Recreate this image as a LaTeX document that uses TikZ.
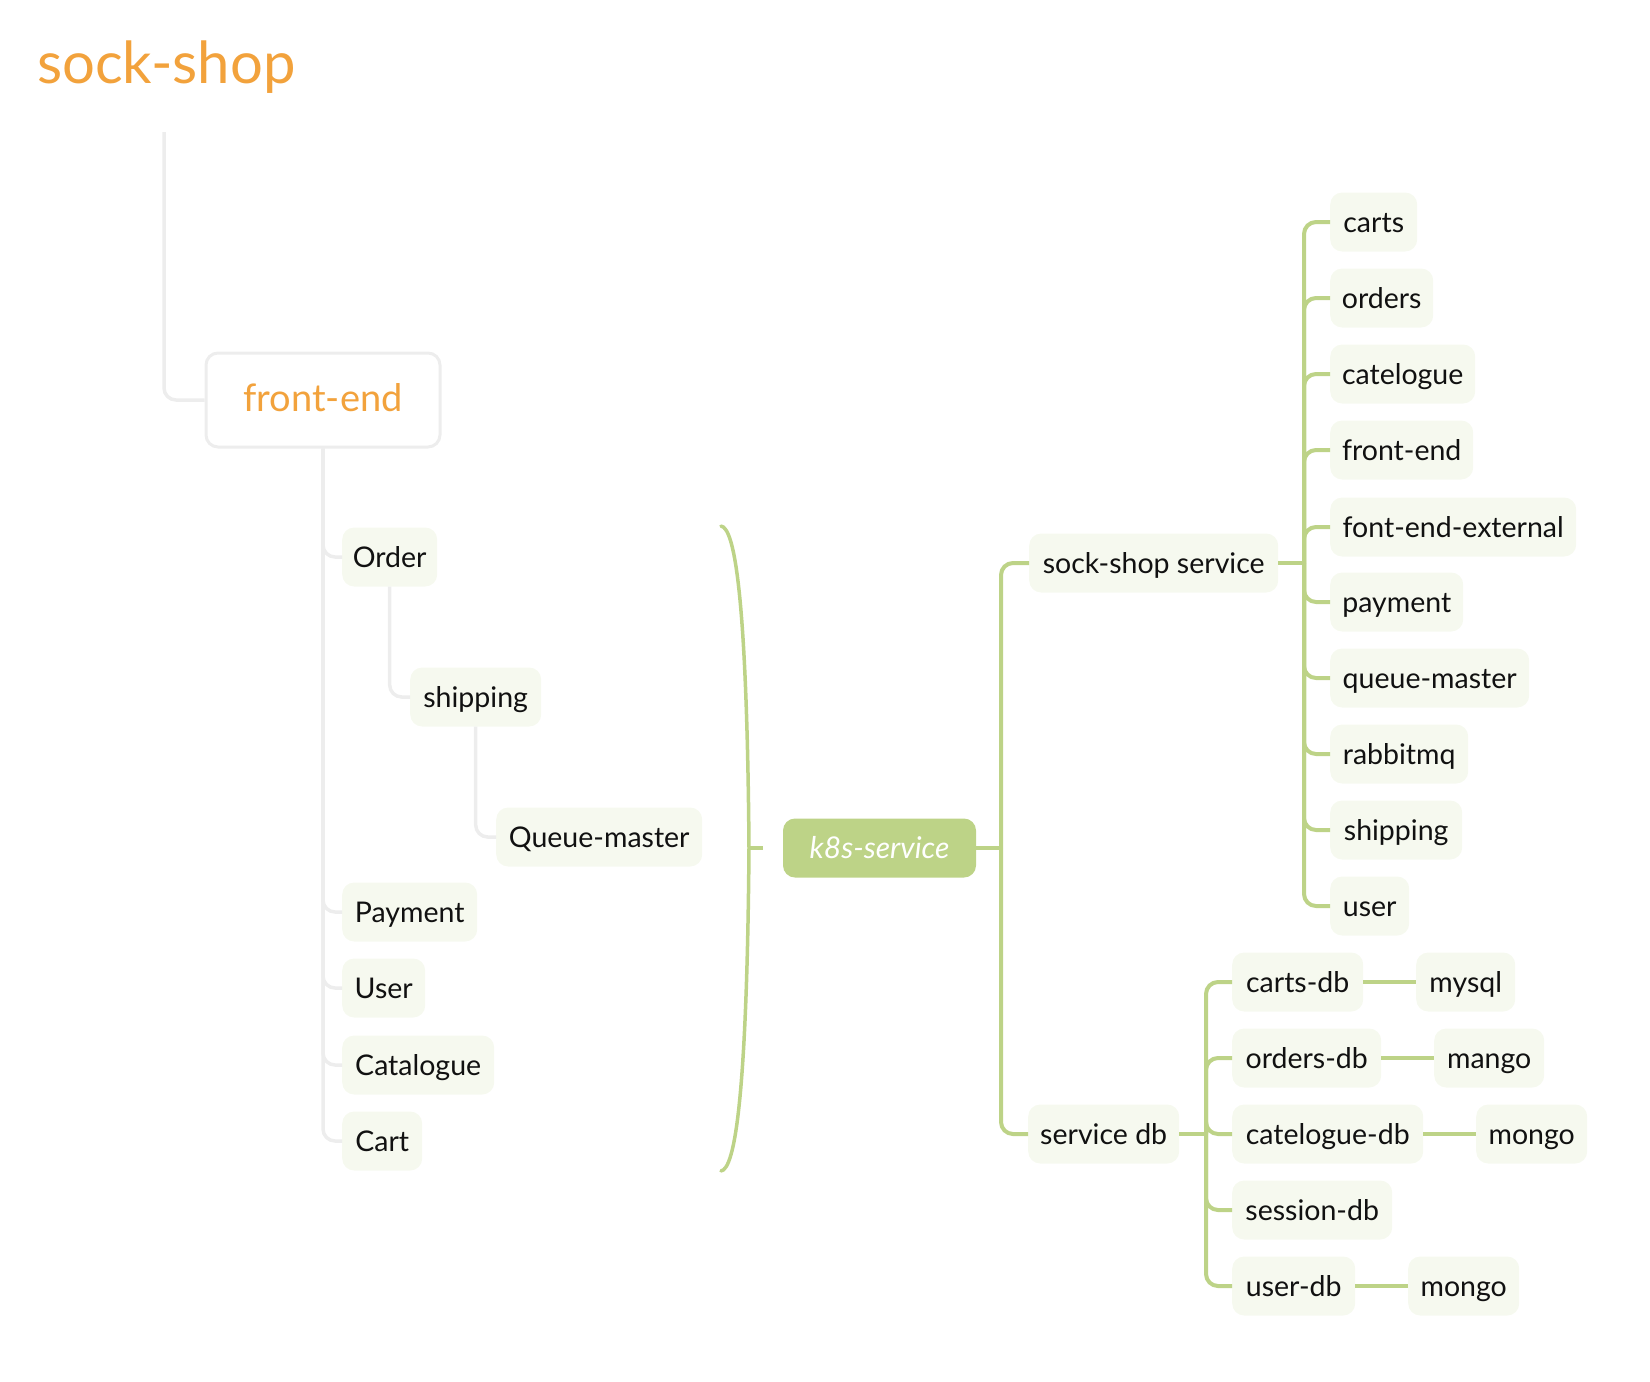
\documentclass[tikz,border=0pt]{standalone}
\usepackage{fontspec}
\setmainfont{Lato}
\definecolor{grn}{HTML}{BDD387}
\definecolor{leaffill}{HTML}{F6F9EF}
\definecolor{greyline}{HTML}{EDEDED}
\definecolor{orng}{HTML}{F2A23C}
\definecolor{txt}{HTML}{111111}
\begin{document}
\begin{tikzpicture}[x=1pt,y=-1pt,
  leaf/.style={fill=leaffill, rounded corners=12pt, minimum height=59pt, text height=27pt, text depth=6pt, inner xsep=2pt, inner ysep=0pt, anchor=west, text=txt, font=\fontsize{28.5}{32}\selectfont},
  gline/.style={draw=greyline, line width=3.5pt, rounded corners=12pt},
  vline/.style={draw=grn, line width=4pt, rounded corners=12pt},
]
\useasboundingbox (0,0) rectangle (1650,1382);

% ---------- left tree ----------
\node[anchor=base west, inner sep=0pt, text=orng, font=\fontsize{58}{62}\selectfont] (title) at (37,83) {sock-shop};
\coordinate (ttop) at (164,132);
\node[draw=greyline, line width=3pt, fill=white, rounded corners=12pt, minimum width=234pt, minimum height=94pt, inner sep=0pt, text height=30pt, text depth=8pt, text=orng, font=\fontsize{38}{42}\selectfont] (fe) at (323,400) {front-end};

\node[leaf, minimum width=95pt]  (order)     at (342,557)  {Order};
\node[leaf, minimum width=131pt] (shipping)  at (410,697)  {shipping};
\node[leaf, minimum width=206pt] (queue)     at (496,837)  {Queue-master};
\node[leaf, minimum width=135pt] (payment)   at (342,912)  {Payment};
\node[leaf, minimum width=83pt]  (user)      at (342,988)  {User};
\node[leaf, minimum width=152pt] (catalogue) at (342,1065) {Catalogue};
\node[leaf, minimum width=80pt]  (cart)      at (342,1141) {Cart};

\draw[gline] (ttop) |- (fe.west);
\foreach \c in {order,payment,user,catalogue,cart}
  \draw[gline] (fe.south) |- (\c.west);
\draw[gline] (order.south) |- (shipping.west);
\draw[gline] (shipping.south) |- (queue.west);

% ---------- brace ----------
\coordinate (bt) at (721,526);
\coordinate (bm) at (749,848);
\coordinate (bb) at (721,1171);
\coordinate (btick) at (763,848);
\draw[grn, line width=3.5pt, line cap=round] (bt) .. controls (735,528) and (747,600) .. (bm) .. controls (747,1096) and (735,1169) .. (bb);
\draw[grn, line width=3.5pt] (bm) -- (btick);

% ---------- k8s tree ----------
\node[fill=grn, rounded corners=12pt, minimum width=193pt, minimum height=59pt, inner sep=0pt, text height=27pt, text depth=6pt, text=white, font=\itshape\fontsize{30}{34}\selectfont] (k8s) at (879.5,848) {k8s-service};
\node[leaf, minimum width=249pt] (sss) at (1029,563)  {sock-shop service};
\node[leaf, minimum width=151pt] (sdb) at (1028,1134) {service db};

\coordinate (j1) at (1001,848);
\draw[vline] (k8s.east) -- (j1);
\draw[vline] (j1) |- (sss.west);
\draw[vline] (j1) |- (sdb.west);

% sock-shop service children
\node[leaf, minimum width=87pt]  (s1)  at (1330,222) {carts};
\node[leaf, minimum width=103pt] (s2)  at (1330,298) {orders};
\node[leaf, minimum width=145pt] (s3)  at (1330,374) {catelogue};
\node[leaf, minimum width=143pt] (s4)  at (1330,450) {front-end};
\node[leaf, minimum width=246pt] (s5)  at (1330,527) {font-end-external};
\node[leaf, minimum width=133pt] (s6)  at (1330,602) {payment};
\node[leaf, minimum width=199pt] (s7)  at (1330,678) {queue-master};
\node[leaf, minimum width=138pt] (s8)  at (1330,754) {rabbitmq};
\node[leaf, minimum width=132pt] (s9)  at (1330,830) {shipping};
\node[leaf, minimum width=79pt]  (s10) at (1330,906) {user};

\coordinate (j2) at (1304,563);
\draw[vline] (sss.east) -- (j2);
\foreach \c in {s1,s2,s3,s4,s5,s6,s7,s8,s9,s10}
  \draw[vline] (j2) |- (\c.west);

% service db children
\node[leaf, minimum width=131pt] (d1) at (1232,982)  {carts-db};
\node[leaf, minimum width=149pt] (d2) at (1232,1058) {orders-db};
\node[leaf, minimum width=191pt] (d3) at (1232,1134) {catelogue-db};
\node[leaf, minimum width=160pt] (d4) at (1232,1210) {session-db};
\node[leaf, minimum width=123pt] (d5) at (1232,1286) {user-db};

\node[leaf, minimum width=99pt]  (e1) at (1416,982)  {mysql};
\node[leaf, minimum width=110pt] (e2) at (1434,1058) {mango};
\node[leaf, minimum width=111pt] (e3) at (1476,1134) {mongo};
\node[leaf, minimum width=111pt] (e5) at (1408,1286) {mongo};

\coordinate (j3) at (1206,1134);
\draw[vline] (sdb.east) -- (j3);
\foreach \c in {d1,d2,d3,d4,d5}
  \draw[vline] (j3) |- (\c.west);
\draw[vline] (d1.east) -- (e1.west);
\draw[vline] (d2.east) -- (e2.west);
\draw[vline] (d3.east) -- (e3.west);
\draw[vline] (d5.east) -- (e5.west);
\end{tikzpicture}
\end{document}
